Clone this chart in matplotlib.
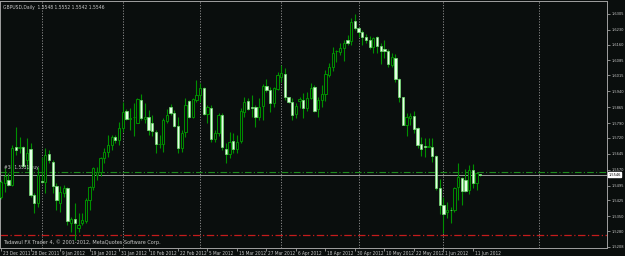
#
# GBPUSD daily candles, MT4 style dark chart
#
import numpy as np
import matplotlib
matplotlib.use('Agg')
import matplotlib.pyplot as plt
from matplotlib import font_manager

# daily OHLC (one entry per bar, oldest first)
opens = [1.5440, 1.5506, 1.5522, 1.5498, 1.5676, 1.5671, 1.5676, 1.5616, 1.5666, 1.5451,
         1.5412, 1.5516, 1.5514, 1.5642, 1.5608, 1.5494, 1.5412, 1.5459, 1.5483, 1.5318,
         1.5337, 1.5294, 1.5318, 1.5326, 1.5428, 1.5487, 1.5545, 1.5561, 1.5624, 1.5655,
         1.5687, 1.5726, 1.5710, 1.5765, 1.5847, 1.5810, 1.5818, 1.5792, 1.5899, 1.5807,
         1.5817, 1.5792, 1.5749, 1.5690, 1.5690, 1.5801, 1.5864, 1.5839, 1.5778, 1.5671,
         1.5749, 1.5894, 1.5820, 1.5899, 1.5920, 1.5953, 1.5833, 1.5862, 1.5713, 1.5742,
         1.5828, 1.5668, 1.5644, 1.5705, 1.5668, 1.5705, 1.5844, 1.5895, 1.5864, 1.5867,
         1.5817, 1.5870, 1.5964, 1.5945, 1.5886, 1.5950, 1.6008, 1.6021, 1.5911, 1.5891,
         1.5831, 1.5895, 1.5898, 1.5862, 1.5909, 1.5960, 1.5854, 1.5898, 1.5927, 1.6016,
         1.6055, 1.6129, 1.6123, 1.6142, 1.6181, 1.6178, 1.6272, 1.6236, 1.6220, 1.6197,
         1.6181, 1.6150, 1.6194, 1.6154, 1.6137, 1.6131, 1.6063, 1.6095, 1.5997, 1.5911,
         1.5781, 1.5812, 1.5823, 1.5765, 1.5691, 1.5682, 1.5676, 1.5679, 1.5635, 1.5482,
         1.5404, 1.5372, 1.5382, 1.5380, 1.5487, 1.5532, 1.5521, 1.5474, 1.5569, 1.5509,
         1.5548]
highs = [1.5522, 1.5577, 1.5553, 1.5687, 1.5773, 1.5726, 1.5683, 1.5718, 1.5694, 1.5459,
         1.5585, 1.5632, 1.5671, 1.5663, 1.5616, 1.5506, 1.5491, 1.5498, 1.5487, 1.5349,
         1.5412, 1.5365, 1.5365, 1.5435, 1.5491, 1.5585, 1.5585, 1.5632, 1.5671, 1.5734,
         1.5734, 1.5734, 1.5797, 1.5891, 1.5856, 1.5859, 1.5883, 1.5906, 1.5925, 1.5883,
         1.5851, 1.5828, 1.5757, 1.5734, 1.5812, 1.5854, 1.5880, 1.5851, 1.5817, 1.5757,
         1.5906, 1.5898, 1.5906, 1.5993, 1.5977, 1.5961, 1.5875, 1.5875, 1.5757, 1.5836,
         1.5836, 1.5694, 1.5749, 1.5742, 1.5734, 1.5859, 1.5914, 1.5906, 1.5922, 1.5875,
         1.5906, 1.5974, 1.5997, 1.5961, 1.5961, 1.6032, 1.6063, 1.6048, 1.5914, 1.5906,
         1.5883, 1.5914, 1.5930, 1.5938, 1.5980, 1.5969, 1.5911, 1.5969, 1.6040, 1.6071,
         1.6150, 1.6134, 1.6165, 1.6181, 1.6205, 1.6283, 1.6304, 1.6244, 1.6228, 1.6209,
         1.6200, 1.6197, 1.6200, 1.6165, 1.6181, 1.6139, 1.6118, 1.6114, 1.6001, 1.5914,
         1.5836, 1.5839, 1.5847, 1.5773, 1.5726, 1.5718, 1.5718, 1.5718, 1.5639, 1.5525,
         1.5443, 1.5420, 1.5396, 1.5490, 1.5600, 1.5537, 1.5572, 1.5592, 1.5595, 1.5556,
         1.5552]
lows = [1.5430, 1.5467, 1.5491, 1.5491, 1.5639, 1.5647, 1.5585, 1.5569, 1.5443, 1.5365,
        1.5396, 1.5506, 1.5459, 1.5600, 1.5459, 1.5380, 1.5373, 1.5443, 1.5310, 1.5278,
        1.5239, 1.5278, 1.5310, 1.5318, 1.5380, 1.5475, 1.5522, 1.5538, 1.5600, 1.5632,
        1.5663, 1.5694, 1.5687, 1.5749, 1.5805, 1.5757, 1.5729, 1.5789, 1.5804, 1.5789,
        1.5734, 1.5729, 1.5647, 1.5671, 1.5655, 1.5789, 1.5828, 1.5770, 1.5647, 1.5655,
        1.5723, 1.5812, 1.5812, 1.5891, 1.5891, 1.5828, 1.5789, 1.5702, 1.5702, 1.5729,
        1.5663, 1.5600, 1.5624, 1.5647, 1.5647, 1.5694, 1.5820, 1.5851, 1.5817, 1.5773,
        1.5804, 1.5804, 1.5938, 1.5844, 1.5864, 1.5945, 1.5985, 1.5898, 1.5886, 1.5804,
        1.5812, 1.5859, 1.5812, 1.5848, 1.5901, 1.5844, 1.5820, 1.5864, 1.5895, 1.6008,
        1.6036, 1.6079, 1.6110, 1.6084, 1.6157, 1.6157, 1.6228, 1.6197, 1.6157, 1.6165,
        1.6137, 1.6118, 1.6118, 1.6068, 1.6095, 1.6056, 1.6052, 1.5985, 1.5891, 1.5781,
        1.5729, 1.5781, 1.5741, 1.5671, 1.5635, 1.5632, 1.5676, 1.5608, 1.5474, 1.5361,
        1.5270, 1.5341, 1.5318, 1.5372, 1.5427, 1.5404, 1.5467, 1.5456, 1.5482, 1.5474,
        1.5542]
closes = [1.5510, 1.5538, 1.5498, 1.5671, 1.5663, 1.5676, 1.5588, 1.5647, 1.5451, 1.5412,
          1.5545, 1.5512, 1.5639, 1.5616, 1.5494, 1.5428, 1.5467, 1.5483, 1.5326, 1.5337,
          1.5318, 1.5310, 1.5334, 1.5428, 1.5487, 1.5577, 1.5561, 1.5624, 1.5655, 1.5687,
          1.5726, 1.5710, 1.5765, 1.5844, 1.5807, 1.5812, 1.5820, 1.5902, 1.5812, 1.5817,
          1.5757, 1.5753, 1.5690, 1.5692, 1.5804, 1.5828, 1.5839, 1.5778, 1.5671, 1.5745,
          1.5875, 1.5820, 1.5902, 1.5922, 1.5953, 1.5833, 1.5864, 1.5715, 1.5742, 1.5828,
          1.5676, 1.5644, 1.5702, 1.5668, 1.5702, 1.5847, 1.5891, 1.5856, 1.5859, 1.5817,
          1.5867, 1.5966, 1.5945, 1.5886, 1.5953, 1.6016, 1.6024, 1.5911, 1.5891, 1.5826,
          1.5872, 1.5901, 1.5859, 1.5909, 1.5957, 1.5847, 1.5898, 1.5927, 1.6021, 1.6055,
          1.6121, 1.6129, 1.6142, 1.6168, 1.6165, 1.6267, 1.6236, 1.6220, 1.6197, 1.6181,
          1.6146, 1.6189, 1.6153, 1.6131, 1.6131, 1.6068, 1.6099, 1.5996, 1.5911, 1.5781,
          1.5817, 1.5823, 1.5762, 1.5686, 1.5666, 1.5676, 1.5682, 1.5635, 1.5482, 1.5404,
          1.5361, 1.5380, 1.5378, 1.5485, 1.5534, 1.5471, 1.5471, 1.5569, 1.5509, 1.5553,
          1.5546]

date_labels = ['23 Dec 2011', '28 Dec 2011', '9 Jan 2012', '19 Jan 2012', '31 Jan 2012',
               '10 Feb 2012', '22 Feb 2012', '5 Mar 2012', '15 Mar 2012', '27 Mar 2012',
               '6 Apr 2012', '18 Apr 2012', '30 Apr 2012', '10 May 2012', '22 May 2012',
               '1 Jun 2012', '11 Jun 2012']
date_bars = [0, 8, 16, 24, 32, 40, 48, 56, 64, 72, 80, 88, 96, 104, 112, 120, 128]
month_sep_bars = [11, 33, 54, 76, 97, 120, 146]

price_labels = [1.6305, 1.6230, 1.6160, 1.6085, 1.6015, 1.5940, 1.5865, 1.5790, 1.5720,
                1.5645, 1.5570, 1.5495, 1.5425, 1.5350, 1.5280, 1.5208]

order_price = 1.5558
stop_price = 1.5262
header = 'GBPUSD,Daily  1.5548 1.5552 1.5542 1.5546'
order_text = '#38 1.5531 buy'
copyright_text = 'Tadawul FX Trader 4, \u00a9 2001-2012, MetaQuotes Software Corp.'

BG = '#0a0e0d'
TXT = '#c8c8c8'
BULL = '#009000'
BEAR_FACE = '#e6ffe6'
BEAR_EDGE = '#70e070'

# narrow font if there is one, otherwise DejaVu condensed / regular
installed = {f.name for f in font_manager.fontManager.ttflist}
if 'Liberation Sans Narrow' in installed:
    plt.rcParams['font.family'] = ['Liberation Sans Narrow', 'DejaVu Sans']
else:
    plt.rcParams['font.family'] = ['DejaVu Sans']
    plt.rcParams['font.stretch'] = 'condensed'
FS = 3.4
FS_AXIS = 2.9

o = np.array(opens)
h = np.array(highs)
l = np.array(lows)
c = np.array(closes)
x = np.arange(len(o))
up = c >= o

fig = plt.figure(figsize=(6.25, 2.56), dpi=100)
fig.patch.set_facecolor(BG)
ax = fig.add_axes([0.0, 1 - 248 / 256, 607 / 625, 247 / 256])
ax.set_facecolor(BG)

# month separators, dotted
for b in month_sep_bars:
    ax.axvline(b, color='#8a8a8a', lw=0.7, ls=(0, (1.2, 1.6)), zorder=1)

# order / stop lines and bid line
ax.axhline(order_price, color='#1e8c1e', lw=0.8, ls=(0, (6, 2, 1, 2)), zorder=2)
ax.axhline(stop_price, color='#c41c1c', lw=0.9, ls=(0, (6, 2, 1, 2)), zorder=2)
ax.axhline(c[-1], color='#9a9a9a', lw=0.7, zorder=2)

# wicks
ax.vlines(x, l, h, color=BULL, lw=0.8, zorder=3)

# bodies
w = 0.62
bot = np.minimum(o, c)
hgt = np.maximum(np.abs(c - o), 0.00005)
ax.bar(x[up], hgt[up], bottom=bot[up], width=w, facecolor=BG, edgecolor=BULL,
       linewidth=0.7, zorder=4)
ax.bar(x[~up], hgt[~up], bottom=bot[~up], width=w, facecolor=BEAR_FACE,
       edgecolor=BEAR_EDGE, linewidth=0.5, zorder=4)

ax.set_xlim(-0.3, 164.4)
ax.set_ylim(1.5201, 1.6365)

# price scale on the right
ax.yaxis.tick_right()
ax.set_yticks(price_labels)
ax.set_yticklabels(['%.4f' % p for p in price_labels])
ax.tick_params(axis='y', colors='#a0a0a0', labelcolor=TXT, length=2, width=0.6,
               labelsize=FS_AXIS, pad=1)

# dates at the bottom, left aligned to the tick
ax.set_xticks(date_bars)
ax.set_xticklabels([])
ax.tick_params(axis='x', colors='#a0a0a0', length=2, width=0.6, direction='out')
for b, lab in zip(date_bars, date_labels):
    ax.annotate(lab, xy=(b, 0), xycoords=('data', 'axes fraction'),
                xytext=(1.2, -2.2), textcoords='offset points', ha='left', va='top',
                fontsize=FS, color=TXT)

for s in ax.spines.values():
    s.set_color('#a0a0a0')
    s.set_linewidth(0.7)

# current price box
ax.annotate('%.4f' % c[-1], xy=(1, c[-1]), xycoords=('axes fraction', 'data'),
            xytext=(1.0, 0), textcoords='offset points', ha='left', va='center',
            fontsize=FS_AXIS, color='black',
            bbox=dict(boxstyle='square,pad=0.15', facecolor='white', edgecolor='white'))

ax.text(0.005, 0.985, header, transform=ax.transAxes, ha='left', va='top',
        fontsize=FS + 0.2, color=TXT)
ax.annotate(order_text, xy=(0, order_price), xycoords=('axes fraction', 'data'),
            xytext=(3, 1.5), textcoords='offset points', ha='left', va='bottom',
            fontsize=FS, color=TXT)
ax.text(0.005, 0.012, copyright_text, transform=ax.transAxes, ha='left', va='bottom',
        fontsize=FS + 0.6, color=TXT)

fig.savefig('out.png', dpi=100, facecolor=BG)
plt.close()
